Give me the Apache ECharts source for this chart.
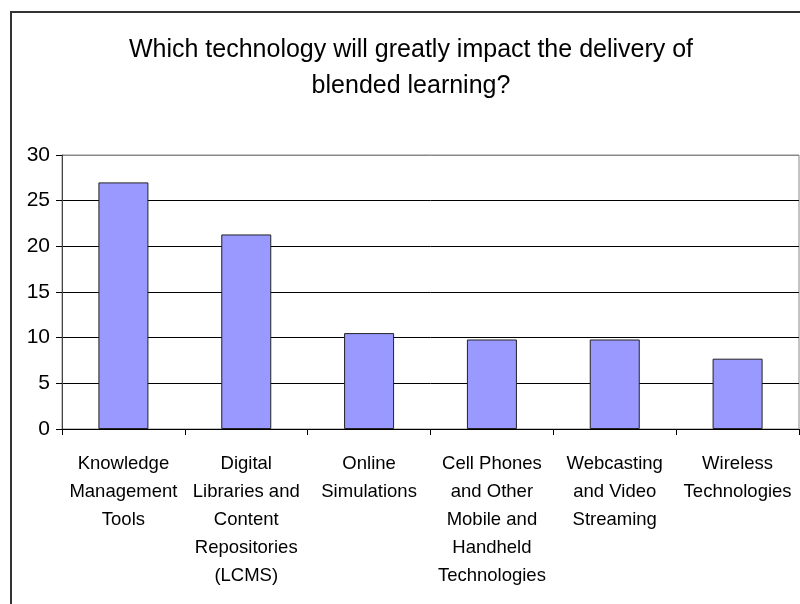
<!DOCTYPE html>
<html>
<head>
<meta charset="utf-8">
<script src="https://cdn.jsdelivr.net/npm/echarts@6/dist/echarts.min.js"></script>
<style>
html,body{margin:0;padding:0;background:#fff;}
#chart{width:800px;height:604px;}
</style>
</head>
<body>
<div id="chart"></div>
<script>
var titleText = 'Which technology will greatly impact the delivery of\nblended learning?';
var categories = [
  'Knowledge\nManagement\nTools',
  'Digital\nLibraries and\nContent\nRepositories\n(LCMS)',
  'Online\nSimulations',
  'Cell Phones\nand Other\nMobile and\nHandheld\nTechnologies',
  'Webcasting\nand Video\nStreaming',
  'Wireless\nTechnologies'
];
var values = [27.0, 21.3, 10.5, 9.8, 9.8, 7.7];
var yMin = 0, yMax = 30, yStep = 5;

var font = '"Liberation Sans", Arial, sans-serif';
var chart = echarts.init(document.getElementById('chart'));
chart.setOption({
  backgroundColor: '#fff',
  animation: false,
  title: {
    text: titleText,
    left: 411,
    top: 32,
    padding: 0,
    textAlign: 'center',
    textStyle: { fontFamily: font, fontSize: 25, fontWeight: 'normal', color: '#000', lineHeight: 36 }
  },
  graphic: [{
    type: 'rect', z: -1, silent: true,
    shape: { x: 11, y: 12, width: 900, height: 700 },
    style: { fill: 'none', stroke: '#333', lineWidth: 2 }
  }],
  grid: { left: 62, right: 1, top: 155, bottom: 175, show: true, borderColor: '#888', borderWidth: 1 },
  xAxis: {
    type: 'category',
    data: categories,
    axisLine: { show: true, lineStyle: { color: '#000', width: 1 } },
    axisTick: { show: true, length: 6, lineStyle: { color: '#000' } },
    axisLabel: { interval: 0, margin: 21, fontFamily: font, fontSize: 18.5, color: '#000', lineHeight: 28, align: 'center' }
  },
  yAxis: {
    type: 'value',
    min: yMin, max: yMax, interval: yStep,
    axisLine: { show: true, lineStyle: { color: '#444', width: 1 } },
    axisTick: { show: true, length: 6, lineStyle: { color: '#000' } },
    axisLabel: { margin: 12, fontFamily: font, fontSize: 21, color: '#000' },
    splitLine: { show: true, lineStyle: { color: ['#000','#000','#000','#000','#000','#000','#888'], width: 1 } }
  },
  series: [{
    type: 'bar',
    data: values,
    barWidth: 50,
    itemStyle: { color: '#9999FF', borderColor: '#222', borderWidth: 1 }
  }]
});
</script>
</body>
</html>
